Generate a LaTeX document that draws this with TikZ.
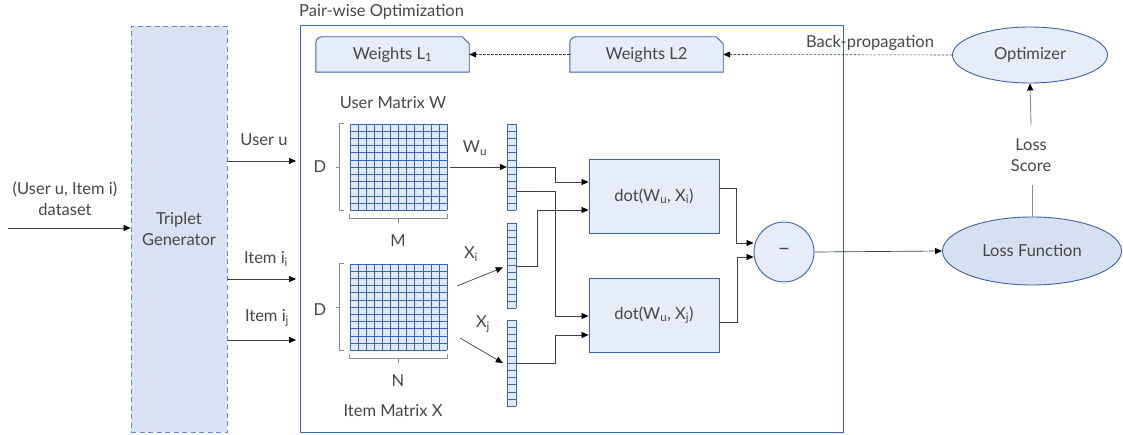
\documentclass[tikz,border=0pt]{standalone}
\usepackage{fontspec}
\setmainfont{Lato}
\usetikzlibrary{arrows.meta,shapes.geometric,calc}

\definecolor{txtc}{HTML}{474747}
\definecolor{edgeb}{HTML}{3B62A8}
\definecolor{darkb}{HTML}{3A66B0}
\definecolor{dashb}{HTML}{5B8BD6}
\definecolor{lightf}{HTML}{E6EDF8}
\definecolor{genf}{HTML}{D9E2F3}
\definecolor{lossf}{HTML}{D7E0F1}
\definecolor{cellf}{HTML}{DFE8F6}
\definecolor{conc}{HTML}{404040}
\definecolor{greyc}{HTML}{8C8C8C}

\tikzset{
  lbl/.style={text=txtc, font=\fontsize{16.5}{21}\selectfont, inner sep=1pt, align=center},
  con/.style={draw=conc, line width=0.7pt},
  arr/.style={con, -{Triangle[length=7pt,width=6pt,black]}},
  backarr/.style={draw=conc, line width=0.6pt, dash pattern=on 2.5pt off 1.5pt, -{Triangle[length=7pt,width=6pt,black]}},
  blk/.style={draw=none, inner sep=0pt},
  bluebox/.style={draw=edgeb, fill=lightf, line width=0.9pt, lbl},
  cellline/.style={draw=darkb, line width=0.5pt},
  brack/.style={draw=greyc, line width=0.8pt},
}

% fill a node area with a grid of #2 columns and #3 rows
\newcommand\cellgrid[3]{%
  \fill[cellf] (#1.north west) rectangle (#1.south east);
  \foreach \k in {0,...,#2}
    \draw[cellline] ($(#1.north west)!\k/#2!(#1.north east)$) -- ($(#1.south west)!\k/#2!(#1.south east)$);
  \foreach \k in {0,...,#3}
    \draw[cellline] ($(#1.north west)!\k/#3!(#1.south west)$) -- ($(#1.north east)!\k/#3!(#1.south east)$);
}

% card shape: rounded top-left corner, clipped top-right corner
\newcommand\cardshape[1]{%
  \draw[draw=edgeb, fill=lightf, line width=0.9pt]
    (#1.south west) -- ([yshift=-6pt]#1.north west)
    arc[start angle=180, end angle=90, radius=6pt]
    -- ([xshift=-7pt]#1.north east) -- ([yshift=-7pt]#1.north east)
    -- (#1.south east) -- cycle;
}

\begin{document}
\begin{tikzpicture}[x=1pt, y=-1pt]
\fill[white] (0,0) rectangle (1123,435);
\useasboundingbox (0,0) rectangle (1123,435);

% ---------- triplet generator ----------
\node[draw=dashb, fill=genf, line width=0.9pt, dash pattern=on 5pt off 3.5pt, minimum width=96pt, minimum height=406pt, lbl]
  (tg) at (179,229) {Triplet\\Generator};
\coordinate (src) at (8,228);
\node[lbl] (srclbl) at (65,199) {(User u, Item i)\\dataset};
\draw[arr] (src) -- (src -| tg.west);

\coordinate (uin) at (296,161);
\coordinate (iin) at (296,279);
\coordinate (jin) at (296,340);
\draw[arr] (tg.east |- uin) -- (uin);
\draw[arr] (tg.east |- iin) -- (iin);
\draw[arr] (tg.east |- jin) -- (jin);
\node[lbl] (ulbl) at (264,140) {User u};
\node[lbl] (ilbl) at (266,259) {Item i\textsubscript{i}};
\node[lbl] (jlbl) at (267,318) {Item i\textsubscript{j}};

% ---------- pair-wise optimisation frame ----------
\node[draw=darkb, line width=1pt, minimum width=543pt, minimum height=406pt] (pw) at (571.5,229) {};
\node[lbl, anchor=west] (pwlbl) at (298,12) {Pair-wise Optimization};

% weights
\node[blk, minimum width=153pt, minimum height=35pt] (w1) at (392.5,54.5) {};
\node[blk, minimum width=153pt, minimum height=35pt] (w2) at (646.5,54.5) {};
\cardshape{w1}
\cardshape{w2}
\node[lbl] at (w1) {Weights L\textsubscript{1}};
\node[lbl] at (w2) {Weights L2};

% user matrix
\node[lbl] (uwt) at (393,103) {User Matrix W};
\node[blk, minimum width=97pt, minimum height=86pt] (gw) at (398.5,167) {};
\cellgrid{gw}{12}{12}
\draw[brack] ([xshift=-6pt]gw.north west) -- ([xshift=-10pt]gw.north west) -- ([xshift=-10pt]gw.south west) -- ([xshift=-6pt]gw.south west);
\draw[brack] ([xshift=-10pt]gw.west) -- ([xshift=-14pt]gw.west);
\node[lbl] (dw) at (320,167) {D};
\draw[brack] ([yshift=-4pt]gw.south west) -- ([yshift=-8pt]gw.south west) -- ([yshift=-8pt]gw.south east) -- ([yshift=-4pt]gw.south east);
\draw[brack] ([yshift=-8pt]gw.south) -- ([yshift=-13pt]gw.south);
\node[lbl] (mw) at (398,241) {M};

% item matrix
\node[blk, minimum width=97pt, minimum height=86pt] (gi) at (398.5,307) {};
\cellgrid{gi}{12}{12}
\draw[brack] ([xshift=-6pt]gi.north west) -- ([xshift=-10pt]gi.north west) -- ([xshift=-10pt]gi.south west) -- ([xshift=-6pt]gi.south west);
\draw[brack] ([xshift=-10pt]gi.west) -- ([xshift=-14pt]gi.west);
\node[lbl] (di) at (320,310) {D};
\draw[brack] ([yshift=-4pt]gi.south west) -- ([yshift=-8pt]gi.south west) -- ([yshift=-8pt]gi.south east) -- ([yshift=-4pt]gi.south east);
\draw[brack] ([yshift=-8pt]gi.south) -- ([yshift=-13pt]gi.south);
\node[lbl] (ni) at (398,381) {N};
\node[lbl] (ixt) at (393,411) {Item Matrix X};

% embedding vectors
\node[blk, minimum width=9pt, minimum height=86pt] (vw) at (511.5,167) {};
\node[blk, minimum width=9pt, minimum height=85pt] (vi) at (511.5,265.5) {};
\node[blk, minimum width=9pt, minimum height=86pt] (vj) at (511.5,363) {};
\cellgrid{vw}{1}{12}
\cellgrid{vi}{1}{12}
\cellgrid{vj}{1}{12}

\draw[arr] ([xshift=3pt]gw.east) -- (vw.west);
\node[lbl] (wul) at (475,148) {W\textsubscript{u}};
\coordinate (xis) at (457,286);
\coordinate (xjs) at (460,338);
\draw[arr] (xis) -- ([xshift=-4pt,yshift=-2pt]vi.west);
\draw[arr] (xjs) -- ([xshift=-4pt]vj.west);
\node[lbl] (xil) at (471,254) {X\textsubscript{i}};
\node[lbl] (xjl) at (483,324) {X\textsubscript{j}};

% dot products and difference
\node[bluebox, minimum width=130pt, minimum height=74pt] (d1) at (654,196) {dot(W\textsubscript{u}, X\textsubscript{i})};
\node[bluebox, minimum width=130pt, minimum height=74pt] (d2) at (654,315) {dot(W\textsubscript{u}, X\textsubscript{j})};
\node[bluebox, circle, minimum size=60pt, inner sep=0pt, font=\fontsize{22}{24}\selectfont] (mn) at (784,252) {–};

\draw[arr] ([yshift=0pt]vw.east) -- (555,167) -- (555,182) -- (d1.west |- 0,182);
\draw[arr] ([yshift=-24pt]vw.east) -- (555,191) -- (555,316) -- (d2.west |- 0,316);
\draw[arr] (vi.east) ++(0,0.5) -- (537,266) -- (537,210) -- (d1.west |- 0,210);
\draw[arr] (vj.east) -- (555,363) -- (555,335) -- (d2.west |- 0,335);
\draw[arr] (d1.east |- 0,188) -- (736,188) -- (736,243) -- ([yshift=9pt]mn.west);
\draw[arr] (d2.east |- 0,322) -- (737,322) -- (737,257) -- ([yshift=-5pt]mn.west);

% loss and optimiser
\node[draw=edgeb, fill=lossf, line width=0.9pt, ellipse, minimum width=179pt, minimum height=68pt, inner sep=0pt, lbl]
  (lf) at (1032,251) {Loss Function};
\node[draw=edgeb, fill=lightf, line width=0.9pt, ellipse, minimum width=155pt, minimum height=56pt, inner sep=0pt, lbl]
  (opt) at (1030,55) {Optimizer};
\draw[arr] (mn.east) -- (lf.west);
\node[lbl, minimum height=60pt] (ls) at (1031,155) {Loss\\Score};
\draw[draw=greyc, line width=0.9pt] (lf.north) -- (ls.south -| lf.north);
\draw[draw=greyc, line width=0.9pt, -{Triangle[length=7pt,width=6pt,black]}] (ls.north) -- (opt.south);

% back-propagation path
\draw[backarr] (opt.west) -- (w2.east);
\draw[backarr] (w2.west) -- (w1.east);
\node[lbl] (bpl) at (870,43) {Back-propagation};
\end{tikzpicture}
\end{document}
